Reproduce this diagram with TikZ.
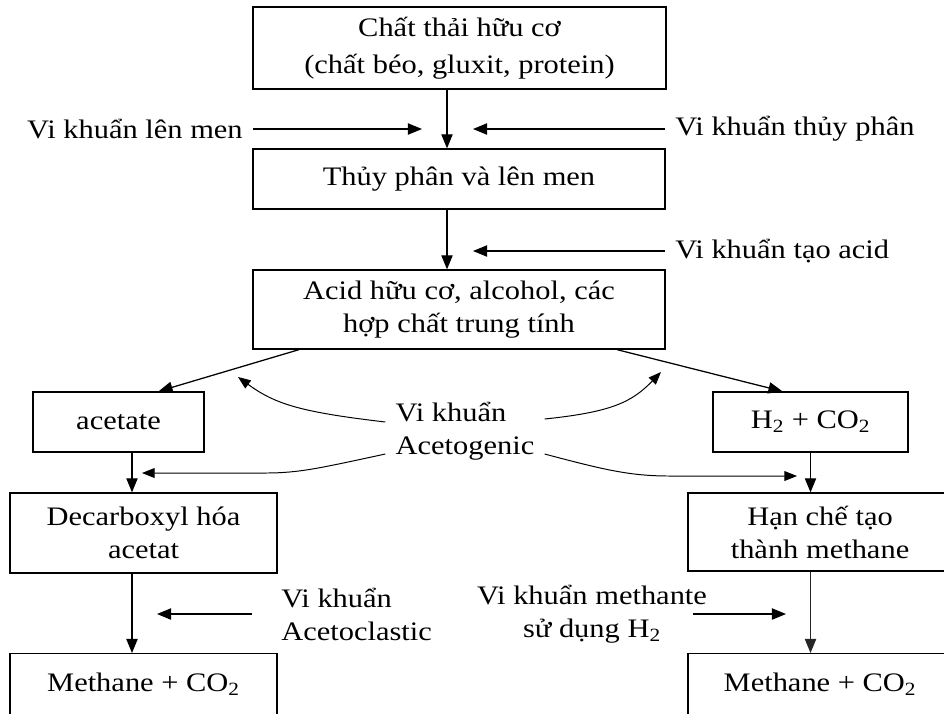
\documentclass[tikz,border=0pt]{standalone}
\usepackage{fontspec}
\setmainfont{Liberation Serif}[FakeStretch=1.14]
\usetikzlibrary{arrows.meta, positioning}

\tikzset{
  stage/.style={rectangle, draw=black, line width=0.9pt, align=center, inner sep=2pt},
  note/.style={align=left, inner xsep=0.25cm, inner ysep=1pt},
  arrow/.style={-{Triangle[length=10pt,width=8pt]}, line width=0.9pt},
  bendarrow/.style={-{Triangle[length=9pt,width=7pt]}, line width=0.7pt}
}

\begin{document}
\begin{tikzpicture}[x=0.025cm, y=-0.025cm, every node/.style={font=\fontsize{19}{23.5}\selectfont}]
  \useasboundingbox (0,0) rectangle (944,713);
  \clip (0,0) rectangle (944,713);

  % main column
  \node[stage, minimum width=10.325cm, minimum height=2.05cm, font=\fontsize{19}{26}\selectfont] (waste) at (459.5,48) {Chất thải hữu cơ\\(chất béo, gluxit, protein)};
  \node[stage, minimum width=10.3cm, minimum height=1.5cm] (hydro) at (459,179) {Thủy phân và lên men};
  \node[stage, minimum width=10.3cm, minimum height=1.975cm] (acids) at (459,309.5) {Acid hữu cơ, alcohol, các\\hợp chất trung tính};

  % two branches
  \node[stage, minimum width=4.275cm, minimum height=1.5cm] (acetate) at (118.5,422) {acetate};
  \node[stage, minimum width=4.875cm, minimum height=1.5cm] (htwo) at (810.5,422) {H\textsubscript{2} + CO\textsubscript{2}};
  \node[stage, minimum width=6.675cm, minimum height=2cm] (decarb) at (143.5,533) {Decarboxyl hóa\\acetat};
  \node[stage, minimum width=6.6cm, minimum height=1.95cm] (limit) at (820,532) {Hạn chế tạo\\thành methane};
  \node[stage, minimum width=6.675cm, anchor=north, text height=0.65cm, text depth=1.6cm, inner ysep=0.3cm] (methL) at (143.5,653) {Methane + CO\textsubscript{2}};
  \node[stage, minimum width=6.6cm, anchor=north, text height=0.65cm, text depth=1.6cm, inner ysep=0.3cm] (methR) at (820,653) {Methane + CO\textsubscript{2}};

  % bacteria
  \node[note, anchor=east] (lenmen) at (253,129) {Vi khuẩn lên men};
  \node[note, anchor=west] (thuyphan) at (665,129) {Vi khuẩn thủy phân};
  \node[note, anchor=west] (taoacid) at (665,251) {Vi khuẩn tạo acid};
  \node[note] (acetogenic) at (465,431) {Vi khuẩn\\Acetogenic};
  \node[note, anchor=west] (aclastic) at (271,614) {Vi khuẩn\\Acetoclastic};
  \node[note, align=center] (methante) at (592,614) {Vi khuẩn methante\\sử dụng H\textsubscript{2}};

  \coordinate (spine) at (447,0);
  \coordinate (colL) at (132,0);
  \coordinate (tipLenmen) at (422,129);
  \coordinate (tipThuy) at (473,129);
  \coordinate (tipAcid) at (473,251);
  \coordinate (tipUL) at (238,377);
  \coordinate (tipUR) at (661,372);
  \coordinate (tipLL) at (142,473);
  \coordinate (tipLR) at (797,476);
  \coordinate (tipClastic) at (157,614);
  \coordinate (tipMethante) at (786,614);

  \draw[arrow] (waste.south -| spine) -- (hydro.north -| spine);
  \draw[arrow] (hydro.south -| spine) -- (acids.north -| spine);
  \draw[arrow] (lenmen.east) -- (tipLenmen);
  \draw[arrow] (thuyphan.west) -- (tipThuy);
  \draw[arrow] (taoacid.west) -- (tipAcid);

  \draw[arrow] ([xshift=-4cm]acids.south) -- ([xshift=1cm]acetate.north);
  \draw[arrow] ([xshift=3.95cm]acids.south) -- ([xshift=-0.7cm]htwo.north);
  \draw[arrow] (acetate.south -| colL) -- (decarb.north -| colL);
  \draw[arrow] (htwo.south) -- (limit.north -| htwo.south);
  \draw[arrow] (decarb.south -| colL) -- (methL.north -| colL);
  \draw[arrow, black!85] (limit.south -| htwo.south) -- (methR.north -| htwo.south);
  \draw[arrow] ([xshift=-0.475cm]aclastic.west) -- (tipClastic);
  \draw[arrow] ([xshift=-0.6cm]methante.east) -- (tipMethante);

  % acetogenic bacteria act on both sides
  \draw[bendarrow] ([yshift=0.225cm]acetogenic.west) .. controls (300,412) and (275,404) .. (tipUL);
  \draw[bendarrow] ([yshift=0.3cm]acetogenic.east) .. controls (612,412) and (632,402) .. (tipUR);
  \draw[bendarrow] ([yshift=-0.575cm]acetogenic.west) .. controls (320,468) and (300,473) .. (265,473) -- (tipLL);
  \draw[bendarrow] ([yshift=-0.575cm]acetogenic.east) .. controls (605,470) and (630,476) .. (670,476) -- (tipLR);
\end{tikzpicture}
\end{document}
